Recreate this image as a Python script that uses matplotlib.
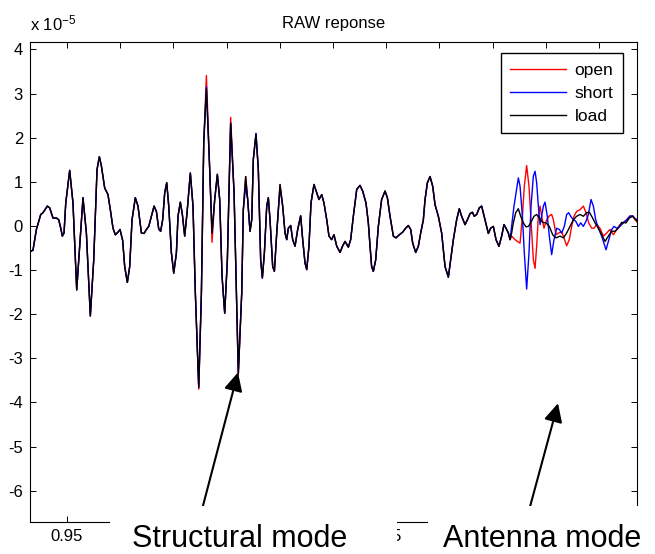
import matplotlib.pyplot as plt
from matplotlib.patches import Rectangle

plt.rcParams['font.family'] = ['Liberation Sans', 'DejaVu Sans']
plt.rcParams['mathtext.default'] = 'regular'
plt.rcParams['axes.unicode_minus'] = False

# part of the record where open / short / load coincide (values in units of 1e-5)
common_t = [0.9152, 0.9180, 0.9212, 0.9253, 0.9274, 0.9315, 0.9337, 0.9368, 0.9400, 0.9422,
            0.9441, 0.9456, 0.9472, 0.9488, 0.9525, 0.9556, 0.9591, 0.9619, 0.9650, 0.9682,
            0.9719, 0.9751, 0.9782, 0.9804, 0.9823, 0.9854, 0.9885, 0.9907, 0.9932, 0.9954,
            0.9979, 0.9998, 1.0023, 1.0042, 1.0067, 1.0089, 1.0111, 1.0142, 1.0167, 1.0199,
            1.0224, 1.0246, 1.0268, 1.0293, 1.0318, 1.0340, 1.0362, 1.0380, 1.0399, 1.0418,
            1.0437, 1.0456, 1.0481, 1.0503, 1.0528, 1.0543, 1.0565, 1.0584, 1.0606, 1.0628,
            1.0659, 1.0684, 1.0706, 1.0738, 1.0763, 1.0785, 1.0810, 1.0841, 1.0863, 1.0888,
            1.0913, 1.0935, 1.0957, 1.0982, 1.1007, 1.1038, 1.1070, 1.1110, 1.1142, 1.1157,
            1.1179, 1.1198, 1.1220, 1.1236, 1.1251, 1.1276, 1.1298, 1.1320, 1.1336, 1.1355,
            1.1377, 1.1392, 1.1408, 1.1433, 1.1449, 1.1471, 1.1502, 1.1527, 1.1549, 1.1565,
            1.1580, 1.1602, 1.1621, 1.1643, 1.1668, 1.1696, 1.1715, 1.1737, 1.1753, 1.1774,
            1.1793, 1.1821, 1.1847, 1.1868, 1.1894, 1.1915, 1.1941, 1.1962, 1.1987, 1.2009,
            1.2035, 1.2066, 1.2091, 1.2113, 1.2144, 1.2166, 1.2191, 1.2223, 1.2254, 1.2279,
            1.2310, 1.2332, 1.2348, 1.2363, 1.2379, 1.2401, 1.2426, 1.2457, 1.2489, 1.2511,
            1.2536, 1.2567, 1.2592, 1.2623, 1.2655, 1.2683, 1.2708, 1.2730, 1.2749, 1.2777,
            1.2802, 1.2824, 1.2849, 1.2865, 1.2887, 1.2912, 1.2937, 1.2959, 1.2990, 1.3021,
            1.3053, 1.3084, 1.3106, 1.3131, 1.3162, 1.3187, 1.3209, 1.3241, 1.3263, 1.3288,
            1.3310, 1.3328, 1.3350, 1.3375, 1.3397, 1.3429, 1.3460, 1.3482, 1.3507, 1.3532,
            1.3560, 1.3585, 1.3607, 1.3626, 1.3648, 1.3664]
common_v = [-0.58, -0.55, -0.08, 0.26, 0.30, 0.45, 0.41, 0.18, 0.18, 0.14,
            -0.05, -0.23, -0.16, 0.52, 1.26, 0.52, -1.45, -0.46, 0.64, -0.16,
            -2.04, -0.77, 1.28, 1.57, 1.36, 0.86, 0.71, 0.37, -0.05, -0.20,
            -0.14, -0.08, -0.33, -0.92, -1.28, -0.92, 0.14, 0.64, 0.45, -0.16,
            -0.17, -0.08, -0.01, 0.22, 0.45, 0.33, -0.07, -0.12, 0.14, 0.75,
            0.98, 0.45, -0.61, -1.07, -0.61, 0.22, 0.54, 0.26, -0.23, 0.30,
            1.20, 0.45, -1.52, -3.66, -1.52, 1.89, 3.11, 1.28, -0.16, 0.60,
            1.17, 0.60, -1.14, -1.98, -0.77, 2.33, 0.75, -3.34, -1.52, 0.37,
            1.12, 0.60, -0.12, 0.14, 1.51, 2.08, 1.28, -0.77, -1.18, -0.61,
            0.45, 0.64, 0.14, -0.92, -1.03, -0.16, 0.94, 0.45, -0.16, -0.31,
            -0.05, 0.01, -0.31, -0.46, -0.08, 0.23, -0.31, -0.84, -0.99, -0.46,
            0.52, 0.94, 0.75, 0.60, 0.71, 0.52, 0.14, -0.23, -0.31, -0.20,
            -0.46, -0.60, -0.45, -0.35, -0.48, -0.31, 0.22, 0.83, 0.92, 0.79,
            0.52, 0.07, -0.46, -0.92, -1.03, -0.77, -0.01, 0.60, 0.79, 0.64,
            0.22, -0.23, -0.27, -0.20, -0.14, -0.05, 0.01, -0.08, -0.39, -0.60,
            -0.46, -0.16, 0.14, 0.60, 0.98, 1.12, 0.90, 0.48, 0.22, -0.16,
            -0.92, -1.16, -0.77, -0.31, 0.14, 0.39, 0.22, 0.03, 0.14, 0.28,
            0.31, 0.22, 0.26, 0.41, 0.45, 0.14, -0.17, -0.05, -0.01, -0.31,
            -0.46, -0.23, 0.03, -0.05, -0.16, -0.31]

# small differences in the common part
open_fix = {1.0738: -3.70, 1.0810: 3.41, 1.0863: -0.37, 1.1038: 2.46, 1.1110: -3.38}
short_fix = {1.0810: 3.15, 1.1179: 0.90, 1.1276: 2.10, 1.1502: 0.86}

# antenna part, where the three terminations differ
load_tail_t = [1.3679, 1.3695, 1.3717, 1.3742, 1.3764, 1.3789, 1.3814, 1.3836, 1.3858, 1.3889,
               1.3914, 1.3939, 1.3971, 1.4002, 1.4033, 1.4065, 1.4096, 1.4134, 1.4165, 1.4196,
               1.4228, 1.4259, 1.4290, 1.4322, 1.4353, 1.4384, 1.4409, 1.4431, 1.4463, 1.4494,
               1.4525, 1.4557, 1.4588, 1.4619, 1.4651, 1.4682, 1.4713, 1.4754, 1.4785, 1.4817,
               1.4838, 1.4857]
load_tail_v = [-0.16, 0.07, 0.30, 0.39, 0.22, 0.07, -0.02, -0.01, 0.07, 0.22,
               0.26, 0.18, 0.08, 0.07, -0.01, -0.20, -0.27, -0.23, -0.27, -0.16,
               -0.01, 0.14, 0.22, 0.26, 0.22, 0.30, 0.31, 0.22, 0.07, -0.05,
               -0.20, -0.35, -0.23, -0.12, -0.12, -0.05, 0.08, 0.07, 0.18, 0.22,
               0.16, 0.12]

open_tail_t = [1.3679, 1.3711, 1.3733, 1.3758, 1.3780, 1.3798, 1.3820, 1.3842, 1.3861, 1.3883,
               1.3899, 1.3914, 1.3930, 1.3946, 1.3961, 1.3983, 1.4008, 1.4033, 1.4055, 1.4071,
               1.4096, 1.4121, 1.4149, 1.4171, 1.4196, 1.4221, 1.4243, 1.4265, 1.4290, 1.4322,
               1.4353, 1.4378, 1.4403, 1.4431, 1.4453, 1.4478, 1.4509, 1.4541, 1.4572, 1.4603,
               1.4635, 1.4666, 1.4697, 1.4729, 1.4760, 1.4791, 1.4817, 1.4838, 1.4857]
open_tail_v = [-0.23, -0.31, -0.35, -0.39, 0.22, 0.90, 1.37, 0.90, 0.14, -0.77,
               -0.96, -0.46, 0.22, 0.45, 0.22, -0.05, 0.14, 0.23, 0.26, 0.14,
               -0.20, -0.16, -0.14, -0.27, -0.45, -0.31, -0.01, 0.22, 0.33, 0.37,
               0.45, 0.30, 0.07, -0.05, -0.05, 0.03, -0.05, -0.23, -0.16, -0.08,
               -0.20, -0.08, 0.03, 0.08, 0.14, 0.23, 0.22, 0.14, 0.09]

short_tail_t = [1.3679, 1.3701, 1.3720, 1.3742, 1.3758, 1.3780, 1.3798, 1.3820, 1.3842, 1.3861,
                1.3883, 1.3899, 1.3914, 1.3930, 1.3946, 1.3961, 1.3977, 1.3993, 1.4014, 1.4033,
                1.4055, 1.4077, 1.4102, 1.4127, 1.4149, 1.4174, 1.4196, 1.4215, 1.4234, 1.4259,
                1.4281, 1.4306, 1.4328, 1.4353, 1.4378, 1.4400, 1.4425, 1.4447, 1.4469, 1.4494,
                1.4525, 1.4566, 1.4588, 1.4619, 1.4641, 1.4666, 1.4697, 1.4729, 1.4760, 1.4791,
                1.4817, 1.4841, 1.4857]
short_tail_v = [-0.01, 0.45, 0.75, 1.09, 0.90, 0.22, -0.61, -1.43, -0.61, 0.45,
                1.13, 1.24, 0.98, 0.45, 0.03, 0.22, 0.45, 0.54, 0.22, -0.23,
                -0.65, -0.31, -0.05, -0.08, -0.16, -0.01, 0.26, 0.30, 0.22, 0.14,
                0.11, -0.01, 0.07, -0.01, 0.11, 0.26, 0.60, 0.45, 0.14, -0.05,
                -0.23, -0.54, -0.35, -0.08, -0.01, -0.05, -0.01, 0.07, 0.14, 0.22,
                0.23, 0.16, 0.15]

x_ticks = [0.95, 1.0, 1.05, 1.1, 1.15, 1.2, 1.25, 1.3, 1.35, 1.4, 1.45]
# only these labels show between the pasted text boxes
x_shown = [0.95, 1.25]
y_ticks = [-6, -5, -4, -3, -2, -1, 0, 1, 2, 3, 4]

open_t = common_t + open_tail_t
open_v = [open_fix.get(t, v) for t, v in zip(common_t, common_v)] + open_tail_v
short_t = common_t + short_tail_t
short_v = [short_fix.get(t, v) for t, v in zip(common_t, common_v)] + short_tail_v
load_t = common_t + load_tail_t
load_v = common_v + load_tail_v

fig = plt.figure(figsize=(6.55, 5.54), dpi=100)
ax = fig.add_axes([0.0458, 0.0578, 0.9267, 0.8664])

ax.plot(open_t, open_v, color='red', lw=1.0, label='open')
ax.plot(short_t, short_v, color='blue', lw=1.0, label='short')
ax.plot(load_t, load_v, color='black', lw=1.0, label='load')

ax.set_xlim(0.9152, 1.4857)
ax.set_ylim(-6.71, 4.17)
ax.set_xticks(x_ticks)
ax.set_xticklabels(['%g' % v if v in x_shown else '' for v in x_ticks])
ax.set_yticks(y_ticks)
ax.tick_params(direction='in', top=True, right=True, length=4, width=0.7,
               labelsize=12, pad=5)
for sp in ax.spines.values():
    sp.set_linewidth(0.8)

ax.set_title('RAW reponse', fontsize=12, pad=10)
ax.text(0, 1.025, 'x 10$^{-5}$', transform=ax.transAxes, fontsize=12, va='baseline')

leg = ax.legend(loc='upper right', bbox_to_anchor=(0.977, 0.977), borderaxespad=0,
                fancybox=False, edgecolor='black', framealpha=1, fontsize=12.5,
                handlelength=3.2, handletextpad=0.5, labelspacing=0.45, borderpad=0.55)
leg.get_frame().set_linewidth(1.0)

# arrows pointing at the two modes
arrow = dict(arrowstyle='-|>,head_length=0.8,head_width=0.4', color='black', lw=1.5,
             shrinkA=0, shrinkB=0, mutation_scale=14)
ax.annotate('', xy=(1.1107, -3.32), xytext=(1.0778, -6.34), arrowprops=arrow,
            annotation_clip=False)
ax.annotate('', xy=(1.4115, -4.02), xytext=(1.3852, -6.36), arrowprops=arrow,
            annotation_clip=False)

# white label boxes pasted over the bottom axis
fig.add_artist(Rectangle((0.168, 0), 0.438, 0.0866, transform=fig.transFigure,
                         facecolor='white', edgecolor='none', zorder=5))
fig.add_artist(Rectangle((0.653, 0), 0.347, 0.0866, transform=fig.transFigure,
                         facecolor='white', edgecolor='none', zorder=5))
fig.text(0.366, 0.0126, 'Structural mode', ha='center', va='baseline', fontsize=22, zorder=6)
fig.text(0.8275, 0.0126, 'Antenna mode', ha='center', va='baseline', fontsize=22, zorder=6)

fig.savefig('out.png', dpi=100)
